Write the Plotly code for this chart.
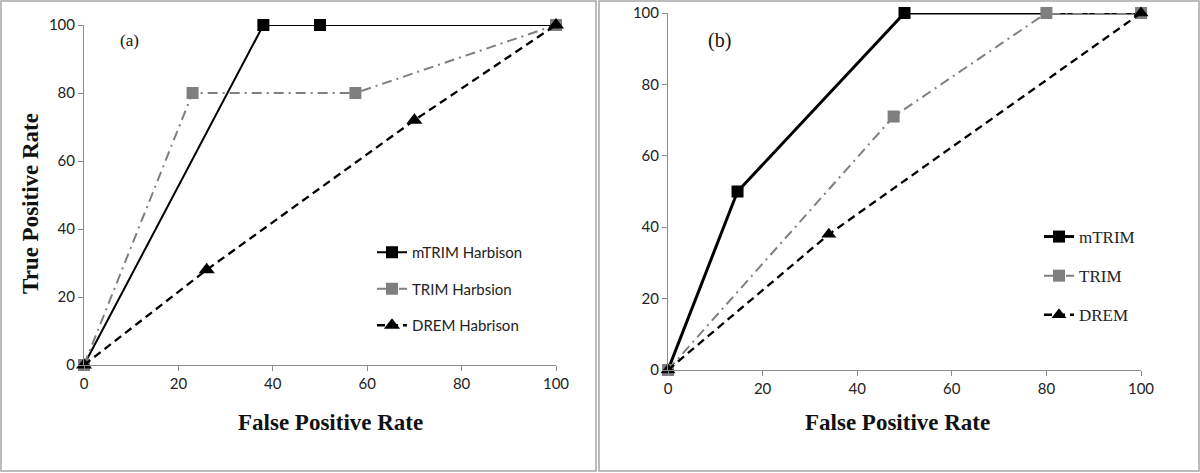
import plotly.graph_objects as go

# Panel (a) data
a_mtrim_x = [0, 38, 50, 100]
a_mtrim_y = [0, 100, 100, 100]
a_trim_x = [0, 23, 57.5, 100]
a_trim_y = [0, 80, 80, 100]
a_drem_x = [0, 26, 70, 100]
a_drem_y = [0, 28, 72, 100]

# Panel (b) data
b_mtrim_x = [0, 14.7, 50, 100]
b_mtrim_y = [0, 50, 100, 100]
b_trim_x = [0, 47.7, 80, 100]
b_trim_y = [0, 71, 100, 100]
b_drem_x = [0, 34, 100]
b_drem_y = [0, 38, 100]

tick_vals = [0, 20, 40, 60, 80, 100]
names_a = ["mTRIM Harbison", "TRIM Harbsion", "DREM Habrison"]
names_b = ["mTRIM", "TRIM", "DREM"]

GRAY = "#7f7f7f"
W, H = 1200, 473

fig = go.Figure()

def add(x, y, name, color, dash, width, symbol, msize, xa, ya, legend):
    fig.add_trace(go.Scatter(
        x=x, y=y, name=name, mode="lines+markers",
        line=dict(color=color, dash=dash, width=width),
        marker=dict(symbol=symbol, size=msize, color=color),
        xaxis=xa, yaxis=ya, legend=legend, cliponaxis=False,
        legendgroup=name,
    ))

DASH = "8px,5px"
DASHDOT = "10px,5px,2px,5px"
add(a_mtrim_x, a_mtrim_y, names_a[0], "black", "solid", 2, "square", 12, "x", "y", "legend")
add(a_trim_x, a_trim_y, names_a[1], GRAY, DASHDOT, 2, "square", 12, "x", "y", "legend")
add(a_drem_x, a_drem_y, names_a[2], "black", DASH, 2.3, "triangle-up", 14, "x", "y", "legend")

add(b_mtrim_x, b_mtrim_y, names_b[0], "black", "solid", 3, "square", 12, "x2", "y2", "legend2")
add(b_trim_x, b_trim_y, names_b[1], GRAY, DASHDOT, 2, "square", 12, "x2", "y2", "legend2")
add(b_drem_x, b_drem_y, names_b[2], "black", DASH, 2.3, "triangle-up", 13, "x2", "y2", "legend2")

tickfont = dict(family="Lato, Open Sans, sans-serif", size=15, color="#222")
axis_common = dict(range=[0, 100], tickvals=tick_vals, showline=True, linecolor="#8c8c8c",
                   linewidth=1, ticks="outside", ticklen=5, tickcolor="#8c8c8c",
                   showgrid=False, zeroline=False, tickfont=tickfont, fixedrange=True,
                   automargin=False)

def px(v):
    return v / W

def py(v):
    return 1 - v / H

fig.update_layout(
    width=W, height=H, margin=dict(l=0, r=0, t=0, b=0, autoexpand=False),
    paper_bgcolor="white", plot_bgcolor="white",
    xaxis=dict(domain=[px(84), px(556)], anchor="y", **axis_common),
    yaxis=dict(domain=[py(365), py(25)], anchor="x", **axis_common),
    xaxis2=dict(domain=[px(668), px(1141)], anchor="y2", **axis_common),
    yaxis2=dict(domain=[py(370), py(13)], anchor="x2", **axis_common),
    legend=dict(x=px(372), y=py(236), xanchor="left", yanchor="top",
                font=dict(family="Lato, Open Sans, sans-serif", size=15, color="#222"),
                tracegroupgap=14, bgcolor="rgba(0,0,0,0)"),
    legend2=dict(x=px(1039), y=py(219), xanchor="left", yanchor="top",
                 font=dict(family="Liberation Serif, serif", size=17, color="#222"),
                 tracegroupgap=14, bgcolor="rgba(0,0,0,0)"),
    showlegend=True,
)

title_font = dict(family="Liberation Serif, Times New Roman, serif", size=23, color="#111")

def label(text, x, y, font, angle=0):
    fig.add_annotation(text=text, xref="paper", yref="paper", x=px(x), y=py(y),
                       xanchor="center", yanchor="middle", textangle=angle,
                       showarrow=False, font=font)

label("<b>True Positive Rate</b>", 30, 204, title_font, -90)
label("<b>False Positive Rate</b>", 330, 422, title_font)
label("<b>False Positive Rate</b>", 897, 422, title_font)
label("(a)", 129, 41, dict(family="Liberation Serif, serif", size=17, color="#111"))
label("(b)", 719, 41, dict(family="Liberation Serif, serif", size=20, color="#111"))

# Panel frames
fig.add_shape(type="rect", xref="paper", yref="paper", x0=px(1), x1=px(596), y0=py(471), y1=py(1),
              line=dict(color="#a6a6a6", width=1.5))
fig.add_shape(type="rect", xref="paper", yref="paper", x0=px(599), x1=px(1199), y0=py(471), y1=py(1),
              line=dict(color="#a6a6a6", width=1.5))

fig.write_html("out.html", config={"displayModeBar": False},
               post_script="document.body.style.margin='0';")
